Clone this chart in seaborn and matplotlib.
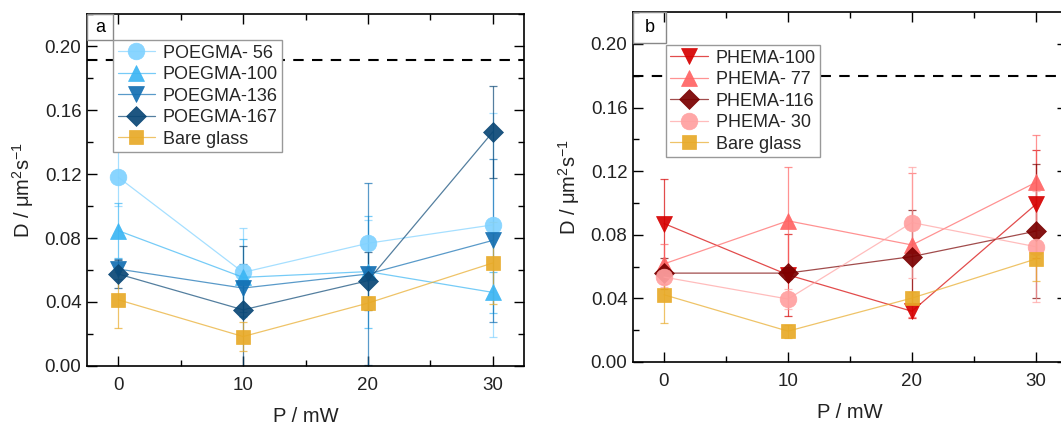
import matplotlib
matplotlib.use("Agg")
import matplotlib.pyplot as plt
from matplotlib.patches import Rectangle
from matplotlib.ticker import MultipleLocator, FormatStrFormatter
import seaborn as sns

# ---------------- data ----------------
P = [0, 10, 20, 30]

poegma_labels = ["POEGMA- 56", "POEGMA-100", "POEGMA-136", "POEGMA-167", "Bare glass"]
poegma56 = [0.118, 0.0585, 0.0767, 0.0882]
poegma56_err = [0.018, 0.028, 0.0146, 0.070]
poegma100 = [0.0846, 0.0554, 0.059, 0.046]
poegma100_err = [0.017, 0.024, 0.035, 0.0128]
poegma136 = [0.0606, 0.0487, 0.0575, 0.0785]
poegma136_err = [0.006, 0.015, 0.057, 0.051]
poegma167 = [0.0575, 0.0351, 0.0533, 0.1463]
poegma167_err = [0.009, 0.040, 0.018, 0.0286]
bare_a = [0.0414, 0.0184, 0.0393, 0.0644]
bare_a_err = [0.0174, 0.009, 0.004, 0.0257]

phema_labels = ["PHEMA-100", "PHEMA- 77", "PHEMA-116", "PHEMA- 30", "Bare glass"]
phema100 = [0.0871, 0.0548, 0.0319, 0.0992]
phema100_err = [0.028, 0.026, 0.004, 0.034]
phema77 = [0.0617, 0.0888, 0.0736, 0.113]
phema77_err = [0.0125, 0.034, 0.045, 0.030]
phema116 = [0.0559, 0.0559, 0.0663, 0.0823]
phema116_err = [0.0097, 0.004, 0.029, 0.042]
phema30 = [0.0534, 0.0396, 0.0877, 0.0725]
phema30_err = [0.006, 0.006, 0.035, 0.035]
bare_b = [0.0423, 0.0194, 0.0402, 0.0648]
bare_b_err = [0.0177, 0.004, 0.004, 0.014]

ref_a = 0.191
ref_b = 0.180

# ---------------- style ----------------
sns.set_theme(style="ticks")
plt.rcParams["font.family"] = ["Liberation Sans", "DejaVu Sans"]
plt.rcParams["mathtext.default"] = "regular"

fig = plt.figure(figsize=(10.61, 4.34), dpi=100)
ax_a = fig.add_axes([0.082, 0.1567, 0.4119, 0.811])
ax_b = fig.add_axes([0.5966, 0.1659, 0.409, 0.806])

blue_cols = ["#80D2FF", "#3CB6F4", "#136FB2", "#0B4876", "#E8AA28"]
red_cols = ["#D60000", "#FF6464", "#7A0000", "#FFA0A0", "#E8AA28"]
a_markers = ["o", "^", "v", "D", "s"]
b_markers = ["v", "^", "D", "o", "s"]
a_sizes = [12, 12, 12, 10, 10]
b_sizes = [12, 12, 10, 12, 10]


def rgba(hexc, a):
    c = matplotlib.colors.to_rgb(hexc)
    return (c[0], c[1], c[2], a)


def draw(ax, series, errs, labels, cols, markers, sizes, ref, tag, box_w, box_h, leg_anchor):
    for vals, err, lab, col, mk, ms in zip(series, errs, labels, cols, markers, sizes):
        ax.errorbar(P, vals, yerr=err, fmt="none", ecolor=rgba(col, 0.7),
                    elinewidth=0.9, capsize=3, capthick=0.9, zorder=2)
        sns.lineplot(x=P, y=vals, ax=ax, color=rgba(col, 0.7), lw=0.9,
                     marker=mk, markersize=ms, markerfacecolor=rgba(col, 0.92),
                     markeredgecolor=rgba(col, 0.92), markeredgewidth=0.5,
                     label=lab, zorder=3)
    ax.axhline(ref, color="black", lw=1.5, ls=(0, (5, 4)), zorder=1)
    ax.set_xlim(-2.5, 32.5)
    ax.set_ylim(0, 0.22)
    ax.xaxis.set_major_locator(MultipleLocator(10))
    ax.xaxis.set_minor_locator(MultipleLocator(5))
    ax.yaxis.set_major_locator(MultipleLocator(0.04))
    ax.yaxis.set_minor_locator(MultipleLocator(0.02))
    ax.yaxis.set_major_formatter(FormatStrFormatter("%.2f"))
    ax.tick_params(which="both", direction="in", top=True, right=True,
                   labelsize=13.5, width=1.0, colors="black", labelcolor="#222222")
    ax.tick_params(which="major", length=7)
    ax.tick_params(which="minor", length=4)
    ax.tick_params(axis="x", which="major", pad=8)
    ax.tick_params(axis="y", which="major", pad=4)
    for s in ax.spines.values():
        s.set_linewidth(1.2)
        s.set_color("black")
    ax.set_xlabel("P / mW", fontsize=14.5, color="#222222", labelpad=9)
    ax.set_ylabel("D / μm$^2$s$^{-1}$", fontsize=14.5, color="#222222", labelpad=6)
    ax.add_patch(Rectangle((0, 1 - box_h), box_w, box_h, transform=ax.transAxes,
                           fill=False, edgecolor="#888888", lw=1.0, zorder=5,
                           clip_on=False))
    ax.text(box_w / 2, 1 - box_h / 2, tag, transform=ax.transAxes, ha="center",
            va="center", fontsize=13, color="black", zorder=6)
    leg = ax.legend(loc="upper left", bbox_to_anchor=leg_anchor, borderaxespad=0,
                    fontsize=13, frameon=True, fancybox=False, handlelength=2.1,
                    handletextpad=0.4, labelspacing=0.25, borderpad=0.25,
                    markerscale=1.0)
    leg.get_frame().set_edgecolor("#999999")
    leg.get_frame().set_linewidth(1.0)
    leg.get_frame().set_alpha(1.0)
    leg.set_zorder(10)


draw(ax_a, [poegma56, poegma100, poegma136, poegma167, bare_a],
     [poegma56_err, poegma100_err, poegma136_err, poegma167_err, bare_a_err],
     poegma_labels, blue_cols, a_markers, a_sizes, ref_a, "a",
     0.06, 0.074, (0.0595, 0.926))
draw(ax_b, [phema100, phema77, phema116, phema30, bare_b],
     [phema100_err, phema77_err, phema116_err, phema30_err, bare_b_err],
     phema_labels, red_cols, b_markers, b_sizes, ref_b, "b",
     0.076, 0.089, (0.076, 0.906))

fig.savefig("out.png", dpi=100)
